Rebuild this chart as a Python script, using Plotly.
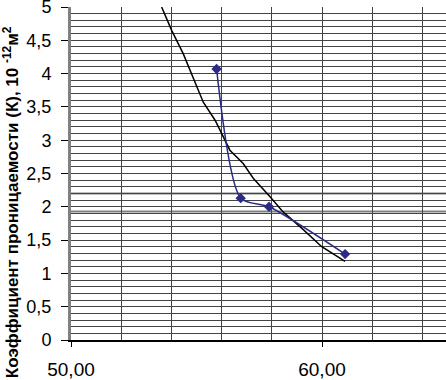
import plotly.graph_objects as go

# Measured points (blue series)
meas_x = [55.80, 56.76, 57.89, 60.92]
meas_y = [4.07, 2.13, 2.00, 1.29]

# Model curve (black)
model_x = [53.61, 54.01, 54.47, 54.90, 55.27, 55.74, 56.33, 56.86, 57.26, 57.93, 58.46, 59.19, 59.99, 60.92]
model_y = [5.00, 4.65, 4.30, 3.90, 3.57, 3.30, 2.85, 2.65, 2.43, 2.15, 1.92, 1.68, 1.40, 1.18]

# Highlighted reference levels
ref_levels = [2.2, 1.93]

y_ticks = [0, 0.5, 1, 1.5, 2, 2.5, 3, 3.5, 4, 4.5, 5]
y_labels = ["0", "0,5", "1", "1,5", "2", "2,5", "3", "3,5", "4", "4,5", "5"]
x_ticks = [50, 60]
x_labels = ["50,00", "60,00"]
y_title = "<b>Коэффициент проницаемости (К), 10 <sup>-12</sup>м<sup>2</sup></b>"

fig = go.Figure()

fig.add_trace(go.Scatter(x=model_x, y=model_y, mode="lines",
                         line=dict(color="#000000", width=1.5), showlegend=False))
fig.add_trace(go.Scatter(x=meas_x, y=meas_y, mode="lines+markers",
                         line=dict(color="#2b2b85", width=1.5, shape="spline", smoothing=0.7),
                         marker=dict(symbol="diamond", size=8, color="#2b2b85"),
                         showlegend=False))

for lv in ref_levels:
    fig.add_shape(type="line", xref="paper", x0=0, x1=1, yref="y", y0=lv, y1=lv,
                  line=dict(color="#808080", width=2), layer="below")

fig.add_annotation(text=y_title, textangle=-90, xref="paper", yref="paper",
                   x=-0.16, y=0.414, xanchor="center", yanchor="middle",
                   showarrow=False, font=dict(size=17, color="#000"))

fig.update_layout(
    width=446, height=380,
    margin=dict(l=71, r=0, t=7, b=40),
    plot_bgcolor="white", paper_bgcolor="white",
    font=dict(family="Liberation Sans, Arial", color="#000000"),
    xaxis=dict(range=[50, 64.94], tickmode="array", tickvals=x_ticks, ticktext=x_labels,
               automargin=False, ticklabeloverflow="allow",
               ticks="outside", ticklen=5, tickcolor="#000", ticklabelstandoff=6,
               tickfont=dict(size=19),
               showgrid=False, zeroline=False,
               showline=True, linecolor="#000", linewidth=1.5,
               minor=dict(dtick=2, tick0=50, showgrid=True, gridcolor="#444", gridwidth=1, ticks="")),
    yaxis=dict(range=[0, 5], tickmode="array", tickvals=y_ticks, ticktext=y_labels,
               automargin=False, ticklabeloverflow="allow",
               ticks="outside", ticklen=7, tickcolor="#000", ticklabelstandoff=6,
               tickfont=dict(size=18),
               showgrid=True, gridcolor="#444", gridwidth=1, zeroline=False,
               showline=True, linecolor="#808080", linewidth=3,
               minor=dict(dtick=0.1, tick0=0, showgrid=True, gridcolor="#444", gridwidth=1, ticks="")),
)

fig.write_html("out.html", config={"displayModeBar": False},
               post_script="document.body.style.margin='0';")
